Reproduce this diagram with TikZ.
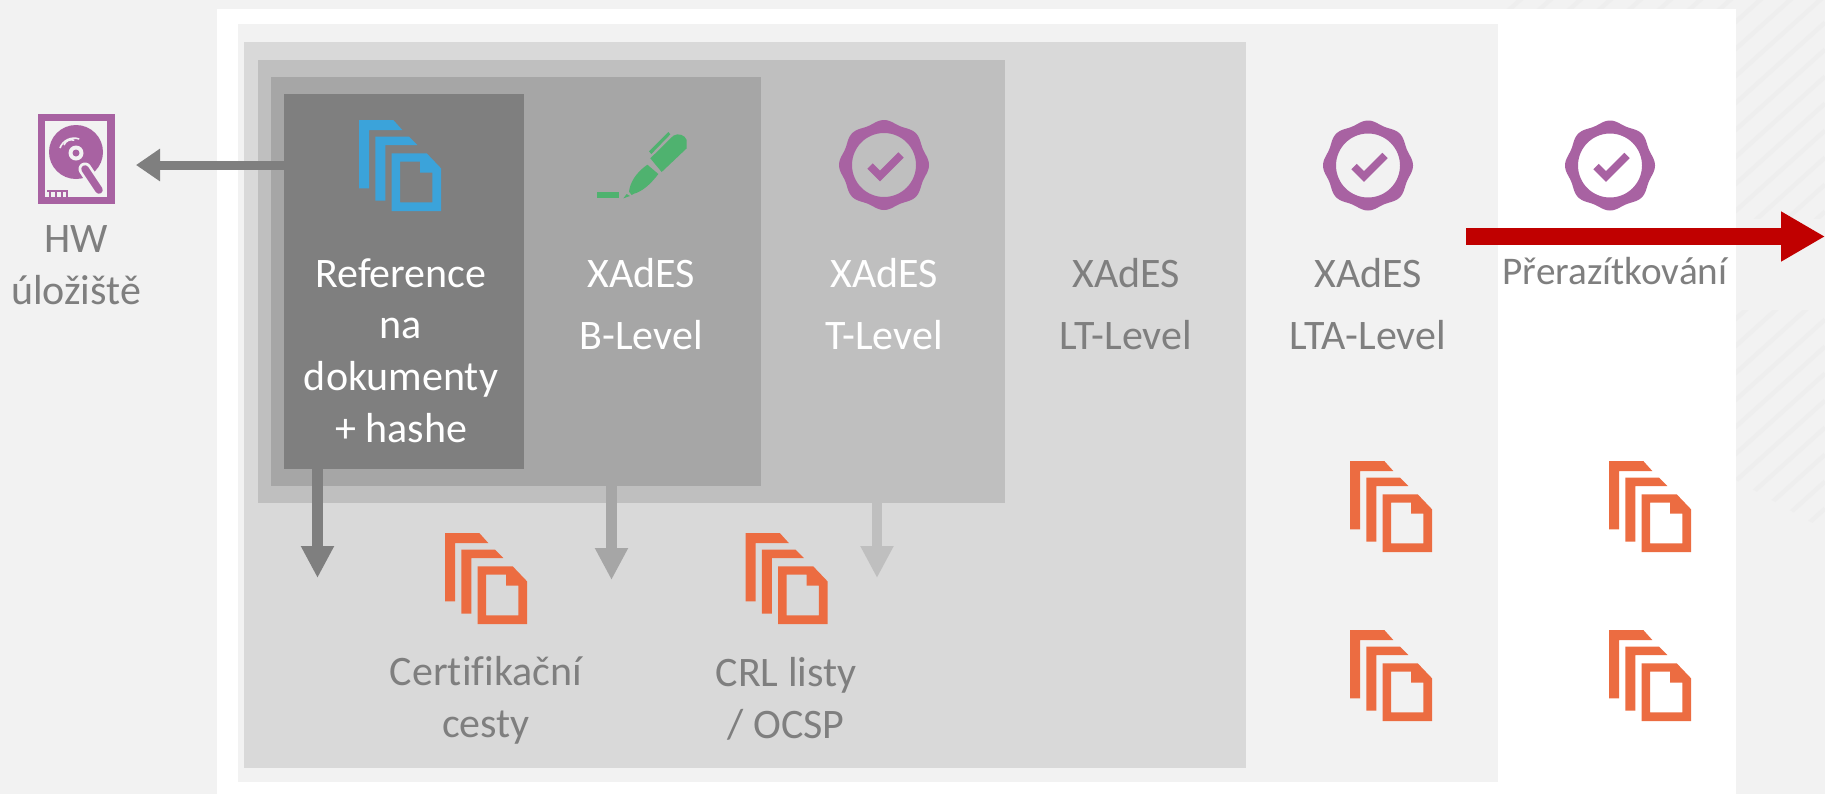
\documentclass[tikz,border=0pt]{standalone}
\usepackage{fontspec}
\setmainfont[Ligatures=CommonOff]{Carlito}
\usetikzlibrary{arrows.meta}
\definecolor{bgc}{HTML}{F2F2F2}
\definecolor{stripec}{HTML}{EEEEEE}
\definecolor{lv1}{HTML}{D9D9D9}
\definecolor{lv2}{HTML}{BFBFBF}
\definecolor{lv3}{HTML}{A6A6A6}
\definecolor{lv4}{HTML}{7F7F7F}
\definecolor{txtc}{HTML}{7F7F7F}
\definecolor{bluec}{HTML}{3BA3DA}
\definecolor{orangec}{HTML}{EC6C41}
\definecolor{purplec}{HTML}{A862A2}
\definecolor{greenc}{HTML}{4FB26F}
\definecolor{redc}{HTML}{C00000}
\tikzset{
  panel/.style={anchor=north west,inner sep=0pt,outer sep=0pt,draw=none},
  lbl/.style={font=\fontsize{21}{25.8}\selectfont,text=txtc,align=center,inner sep=0pt,anchor=base},
  wlbl/.style={lbl,text=white},
  fatarrow/.style={line width=5.25pt,-{Triangle[width=15.5pt,length=16pt]}},
  redarrow/.style={line width=8.5pt,redc,-{Triangle[width=23.5pt,length=22pt]}},
  stripe/.style={stripec,line width=2.2pt}
}
\newcommand{\docicon}[3]{%
  \begin{scope}[shift={(#1,#2)}]
    \fill[#3] (0,0) -- (34.3,0) -- (43.3,10) -- (10,10) -- (10,68.3) -- (0,68.3) -- cycle;
    \fill[#3] (16.3,16.7) -- (50,16.7) -- (58.3,25) -- (26.3,25) -- (26.3,80.7) -- (16.3,80.7) -- cycle;
    \fill[#3,even odd rule] (32.7,33.3) -- (67.7,33.3) -- (82,48.3) -- (82,91) -- (32.7,91) -- cycle
      (41,41.7) -- (61,41.7) -- (61,52.7) -- (73.3,52.7) -- (73.3,82.3) -- (41,82.3) -- cycle;
  \end{scope}}
\newcommand{\badgeicon}[2]{%
  \begin{scope}[shift={(#1,#2)}]
    \fill[purplec,even odd rule]
      plot[domain=0:360,samples=145,variable=\t] ({(43.5+1.5*cos(8*\t))*cos(\t)},{(43.5+1.5*cos(8*\t))*sin(\t)}) -- cycle
      (32,0) arc[start angle=0,end angle=360,radius=32];
    \draw[purplec,line width=3.8pt,line join=miter] (-14,1) -- (-4,11) -- (17,-10);
  \end{scope}}
\begin{document}
\begin{tikzpicture}[x=0.5pt,y=-0.5pt]
\useasboundingbox (0,0) rectangle (1825,794);
\fill[bgc] (0,0) rectangle (1825,794);
% stripes
\begin{scope}
  \clip (1500,0) rectangle (1825,218);
  \foreach \k in {-22,...,11} { \draw[stripe] (1400,{1908+27*\k-0.9*1400}) -- (1825,{1908+27*\k-0.9*1825}); }
\end{scope}
\begin{scope}
  \clip (1736,310) -- (1825,310) -- (1825,530) -- (1736,480) -- cycle;
  \foreach \k in {-22,...,11} { \draw[stripe] (1400,{1908+27*\k-0.9*1400}) -- (1825,{1908+27*\k-0.9*1825}); }
\end{scope}
% panels
\node[panel,fill=white,minimum width=759.5pt,minimum height=392.5pt] (white) at (217,9) {};
\node[panel,fill=bgc,minimum width=630pt,minimum height=379pt] (p0) at (238,24) {};
\node[panel,fill=lv1,minimum width=501pt,minimum height=363pt] (p1) at (244,42) {};
\node[panel,fill=lv2,minimum width=373.5pt,minimum height=221.5pt] (p2) at (258,60) {};
\node[panel,fill=lv3,minimum width=245pt,minimum height=204.5pt] (p3) at (271,77) {};
\node[panel,fill=lv4,minimum width=120pt,minimum height=187.5pt] (p4) at (284,94) {};
% connectors
\coordinate (a1) at (317.5,578);
\coordinate (a2) at (611.5,580);
\coordinate (a3) at (877,578);
\coordinate (hwtip) at (136,165);
\coordinate (r0) at (1466,236.5);
\coordinate (r1) at (1825,236.5);
\draw[fatarrow,lv4,line width=4.5pt,-{Triangle[width=15.5pt,length=12pt]}] (p4.west |- hwtip) -- (hwtip);
\draw[fatarrow,lv4] (p4.south -| a1) -- (a1);
\draw[fatarrow,lv3] (p3.south -| a2) -- (a2);
\draw[fatarrow,lv2] (p2.south -| a3) -- (a3);
\draw[redarrow] (r0) -- (r1);
% HW icon
\fill[purplec] (38,114) rectangle (115,204);
\fill[bgc] (45,121) rectangle (107,197);
\fill[purplec] (76,152) circle[radius=27];
\fill[bgc] (76,153) circle[radius=7.5];
\fill[purplec] (76,153) circle[radius=3.5];
\draw[bgc,line width=0.8pt] (60,148) arc[start angle=200,end angle=290,radius=15];
\draw[bgc,line width=0.8pt] (64,145) arc[start angle=200,end angle=290,radius=8];
\draw[bgc,line width=6.5pt,line cap=round] (85,169) -- (99,190);
\draw[purplec,line width=3.8pt,line cap=round] (85,169) -- (99,190);
\fill[purplec] (47,190) rectangle (68,192);
\foreach \x in {49,55,61,66} { \fill[purplec] (\x,190) rectangle (\x+2.2,197); }
% doc icons
\docicon{359}{120}{bluec}
\docicon{445}{533}{orangec}
\docicon{745.5}{533}{orangec}
\docicon{1350}{461}{orangec}
\docicon{1350}{630}{orangec}
\docicon{1609}{461}{orangec}
\docicon{1609}{630}{orangec}
% pen
\begin{scope}[shift={(560,90)},x=0.16667pt,y=-0.16667pt]
  \fill[greenc] (111,307) rectangle (178,325);
  \fill[greenc] (190,325) -- (200,312) -- (210,318) -- cycle;
  \fill[greenc] (207,305) .. controls (210,280) and (225,250) .. (262,224) -- (295,252) .. controls (270,285) and (245,305) .. (222,311) -- (215,315) -- cycle;
  \fill[greenc] (271,205) -- (340,137) .. controls (355,128) and (375,135) .. (380,150) -- (380,175) -- (305,246) -- cycle;
  \fill[greenc] (267,184) -- (325,126) -- (331,133) -- (274,192) -- cycle;
\end{scope}
% badges
\badgeicon{884}{165}
\badgeicon{1368}{165.5}
\badgeicon{1610}{165.5}
% labels
\node[lbl] (hw) at (76,304) {HW\\úložiště};
\node[wlbl] (ref) at (401,442) {Reference\\na\\dokumenty\\+ hashe};
\node[wlbl,font=\fontsize{21}{30.8}\selectfont] (b) at (641,349) {XAdES\\B-Level};
\node[wlbl,font=\fontsize{21}{30.8}\selectfont] (t) at (884,349) {XAdES\\T-Level};
\node[lbl,font=\fontsize{21}{30.8}\selectfont] (lt) at (1126,349) {XAdES\\LT-Level};
\node[lbl,font=\fontsize{21}{30.8}\selectfont] (lta) at (1368,349) {XAdES\\LTA-Level};
\node[lbl,font=\fontsize{19.6}{25}\selectfont] (pr) at (1615,284) {Přerazítkování};
\node[lbl] (cert) at (486,737) {Certifikační\\cesty};
\node[lbl] (crl) at (786,738) {CRL listy\\/ OCSP};
\end{tikzpicture}
\end{document}
